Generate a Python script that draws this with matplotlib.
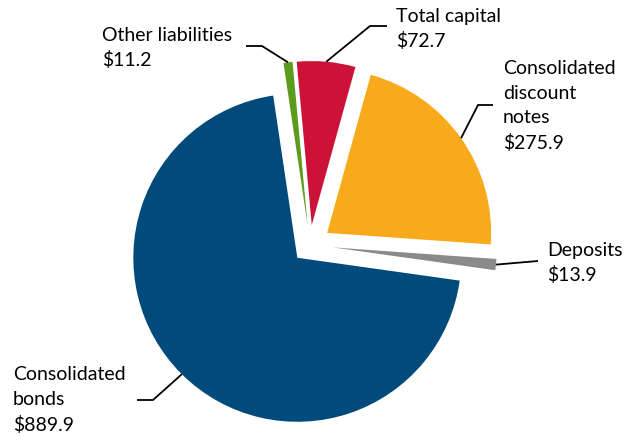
import numpy as np
import matplotlib.pyplot as plt

plt.rcParams['font.family'] = ['Lato', 'DejaVu Sans']

# liabilities and capital, $ billions (counterclockwise from the right)
names = ['Deposits', 'Consolidated\ndiscount\nnotes', 'Total capital', 'Other liabilities', 'Consolidated\nbonds']
values = [13.9, 275.9, 72.7, 11.2, 889.9]
colors = ['#8a8a8a', '#f8aa1c', '#cc1236', '#5c9b1c', '#004a7c']
# slice offsets in pixels (pie explode is in data units)
explode = [23, 21, 20, 20, 18]

# label text anchor (left x, centre y) and leader elbow/end points, in pixels (y up)
label_pos = [(547, 173), (503, 330), (396, 407), (102, 388), (13, 36)]
leader_pts = [[(538, 175)],
              [(478, 331), (493, 331)],
              [(370, 410), (387, 410)],
              [(262, 390), (246, 390)],
              [(153, 36), (137, 36)]]

W, H = 632, 436
R = 164
fig = plt.figure(figsize=(W / 100, H / 100), dpi=100)
ax = fig.add_axes([0, 0, 1, 1])

wedges, _ = ax.pie(values, colors=colors, explode=explode, startangle=-8,
                   counterclock=True, radius=R, center=(310, 191),
                   wedgeprops=dict(linewidth=0), frame=True)
ax.set_xlim(0, W)
ax.set_ylim(0, H)
ax.set_aspect('equal')
ax.axis('off')

for w, name, val, pos, pts in zip(wedges, names, values, label_pos, leader_pts):
    mid = np.deg2rad((w.theta1 + w.theta2) / 2)
    cx, cy = w.center
    tip = (cx + R * np.cos(mid), cy + R * np.sin(mid))
    xs = [tip[0]] + [p[0] for p in pts]
    ys = [tip[1]] + [p[1] for p in pts]
    ax.plot(xs, ys, color='black', lw=1.3, solid_capstyle='butt')
    ax.text(pos[0], pos[1], f'{name}\n${val:.1f}', ha='left', va='center',
            fontsize=14, linespacing=1.53, color='black')

fig.savefig('out.png', dpi=100)
